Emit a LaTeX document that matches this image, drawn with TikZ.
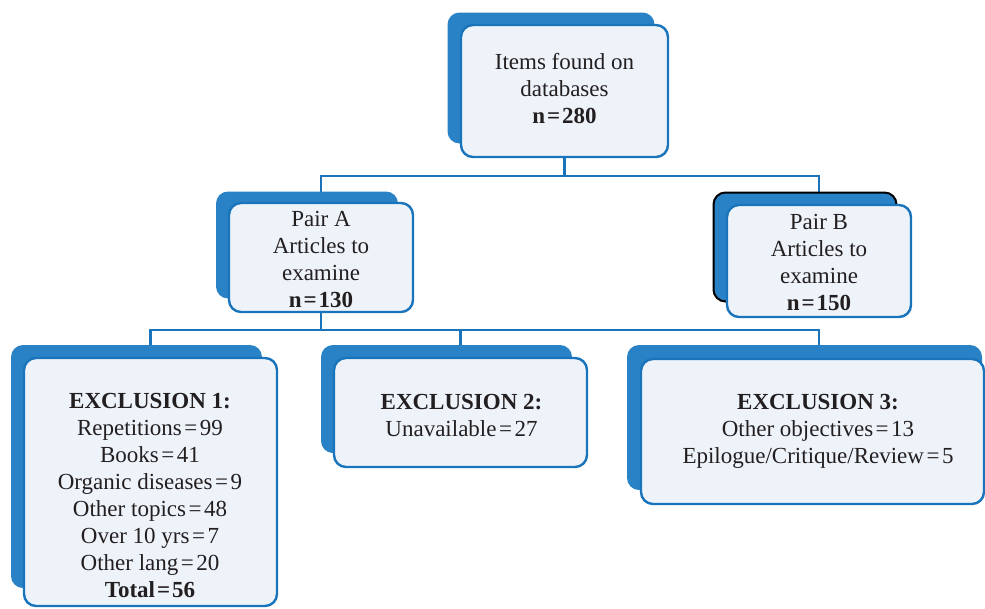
\documentclass[tikz,border=0pt]{standalone}
\usepackage{fontspec}
\setmainfont{Liberation Serif}
\definecolor{backblue}{HTML}{2A82C6}
\definecolor{lineblue}{HTML}{1A74BB}
\definecolor{boxfill}{HTML}{EEF3FA}
\definecolor{txt}{HTML}{231F20}
\pgfdeclarelayer{bg}
\pgfsetlayers{bg,main}
\newcommand{\eqs}{\kern2.5pt=\kern2.5pt}
\newcommand{\eqb}{\kern2pt=\kern2pt}
\begin{document}
\begin{tikzpicture}[x=1pt,y=-1pt,
  front/.style={draw=lineblue, line width=2.4pt, fill=boxfill, rounded corners=12pt, inner sep=0pt},
  back/.style={fill=backblue, rounded corners=12pt, inner sep=0pt},
  conn/.style={draw=lineblue, line width=2.2pt},
  lbl/.style={text=txt, align=center, font=\fontsize{23}{27}\selectfont, inner sep=0pt}]
\useasboundingbox (0,0) rectangle (985,608);
% top
\node[back, minimum width=207pt, minimum height=131pt] (topB) at (551,78) {};
\node[front, minimum width=207pt, minimum height=132pt] (top) at (564.5,91) {};
\node[lbl] (topT) at (564.5,89) {Items found on\\databases\\\textbf{n\eqb280}};
% pair A
\node[back, minimum width=182pt, minimum height=107pt] (pAB) at (307,245) {};
\node[front, minimum width=184pt, minimum height=109pt] (pA) at (321,257.5) {};
\node[lbl] (pAT) at (321,259) {Pair A\\Articles to\\examine\\\textbf{n\eqb130}};
% pair B
\node[back, draw=black, line width=2pt, minimum width=183pt, minimum height=109pt] (pBB) at (805,247) {};
\node[front, minimum width=184pt, minimum height=112pt] (pB) at (819,261) {};
\node[lbl] (pBT) at (819,262.5) {Pair B\\Articles to\\examine\\\textbf{n\eqb150}};
% exclusion 1
\node[back, minimum width=251pt, minimum height=243pt] (e1B) at (136.5,466.5) {};
\node[front, minimum width=253pt, minimum height=248pt] (e1) at (150.5,482) {};
\node[lbl] (e1T) at (150,495.5) {\textbf{EXCLUSION 1:}\\Repetitions\eqs99\\Books\eqs41\\Organic diseases\eqs9\\Other topics\eqs48\\Over 10 yrs\eqs7\\Other lang\eqs20\\\textbf{Total\eqb56}};
% exclusion 2
\node[back, minimum width=251pt, minimum height=108pt] (e2B) at (446.5,399) {};
\node[front, minimum width=253pt, minimum height=109pt] (e2) at (460.5,412.5) {};
\node[lbl] (e2T) at (461.5,415) {\textbf{EXCLUSION 2:}\\Unavailable\eqs27};
% exclusion 3
\node[back, minimum width=355pt, minimum height=145pt] (e3B) at (804.5,417.5) {};
\node[front, minimum width=343pt, minimum height=145pt] (e3) at (812.5,431.5) {};
\node[lbl] (e3T) at (818,431) {\textbf{EXCLUSION 3:}\\Other objectives\eqs13\\Epilogue/Critique/Review\eqs5};
% connectors
\coordinate (bus1) at (0,176);
\coordinate (bus2) at (0,330);
\begin{pgfonlayer}{bg}
\draw[conn] (top.south) -- (top.south |- bus1);
\draw[conn] (pA.north) |- (bus1 -| pB.north) -- (pB.north);
\draw[conn] (pA.south) -- (pA.south |- bus2);
\draw[conn] (e1.north) |- (bus2 -| pB.south) -- (pB.south |- e3.north);
\draw[conn] (e2.north) -- (e2.north |- bus2);
\end{pgfonlayer}
\end{tikzpicture}
\end{document}
